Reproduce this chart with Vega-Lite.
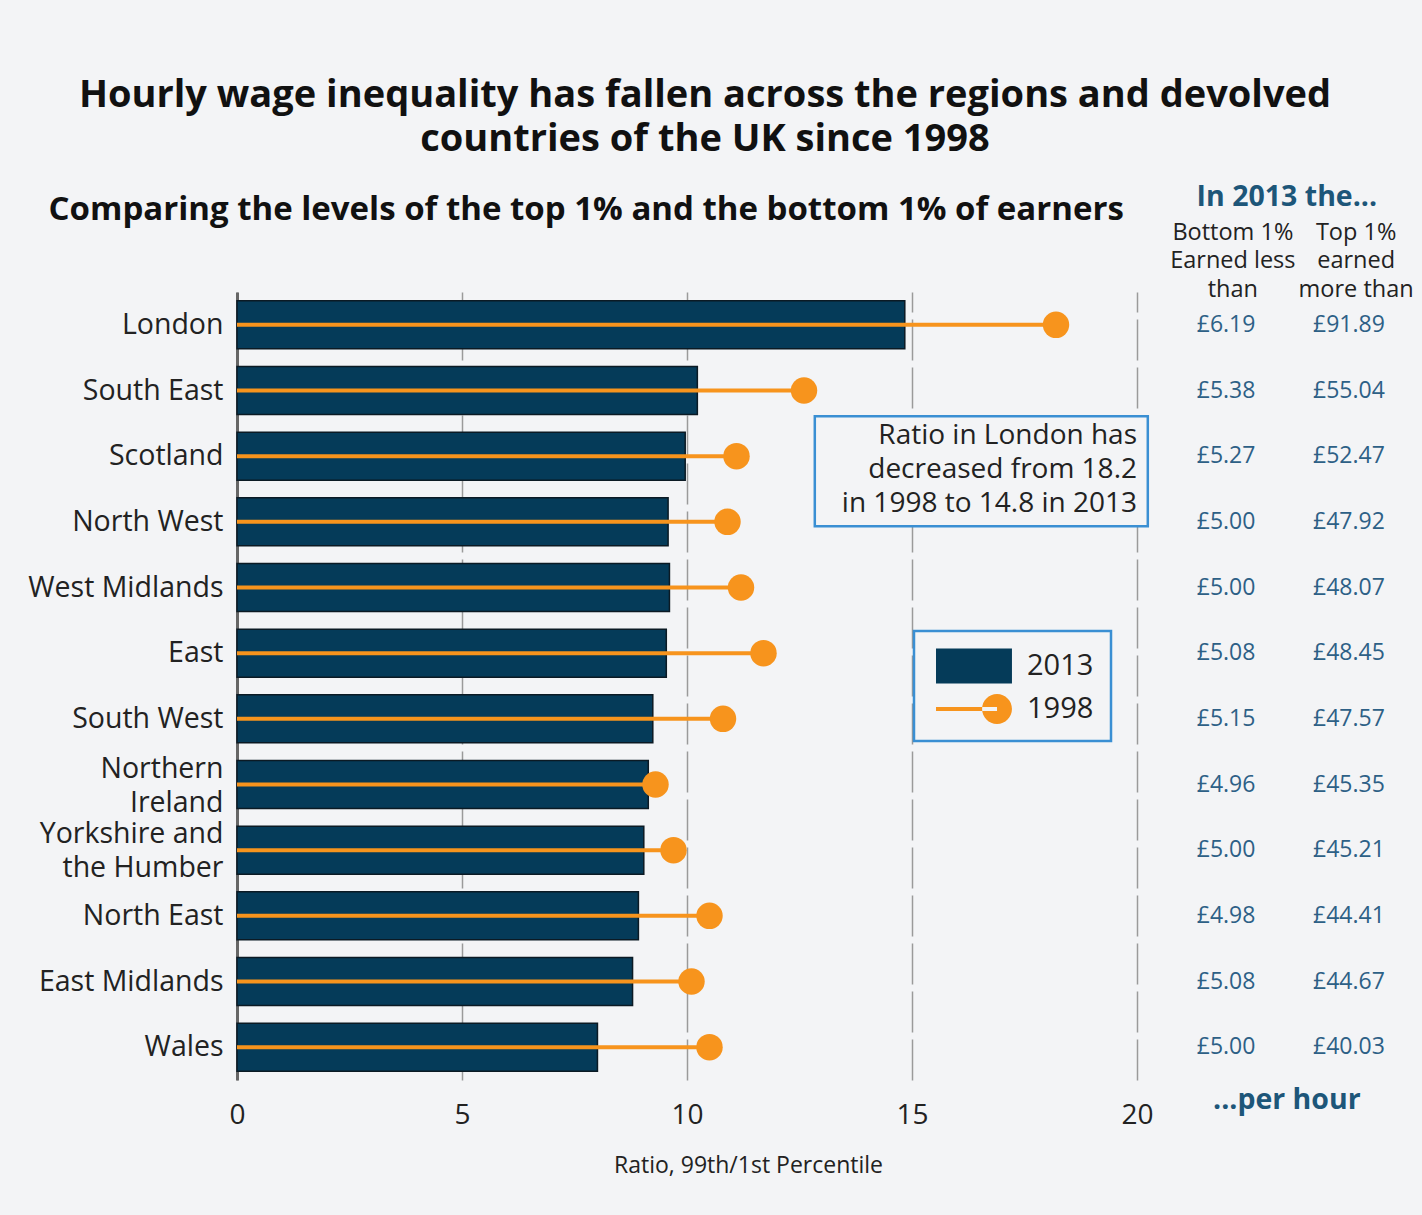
{
  "$schema": "https://vega.github.io/schema/vega-lite/v6.json",
  "width": 900,
  "height": 788,
  "autosize": {"type": "none"},
  "padding": {"left": 237, "top": 292, "right": 285, "bottom": 135},
  "background": "#f3f4f6",
  "title": {
    "text": ["Hourly wage inequality has fallen across the regions and devolved", "countries of the UK since 1998"],
    "fontSize": 38,
    "fontWeight": "bold",
    "font": "Open Sans",
    "color": "#111111",
    "anchor": "middle",
    "frame": "group",
    "dx": 18,
    "lineHeight": 44,
    "offset": 24
  },
  "config": {
    "font": "Open Sans",
    "view": {"stroke": null},
    "text": {"font": "Open Sans"},
    "legend": {
      "orient": "none",
      "legendX": 677,
      "legendY": 339,
      "padding": 17,
      "strokeColor": "#3a8fd3",
      "strokeWidth": 2.5,
      "fillColor": "#f3f4f6",
      "labelFontSize": 29,
      "labelFont": "Open Sans",
      "labelColor": "#222222",
      "symbolSize": 1296,
      "symbolOffset": 5,
      "labelOffset": 55,
      "rowPadding": 7,
      "symbolOpacity": 1,
      "symbolStrokeWidth": 0
    }
  },
  "data": {
    "values": [
      {"region": "London", "r2013": 14.84, "r1998": 18.2, "bottom": "£6.19", "top": "£91.89"},
      {"region": "South East", "r2013": 10.23, "r1998": 12.6, "bottom": "£5.38", "top": "£55.04"},
      {"region": "Scotland", "r2013": 9.96, "r1998": 11.1, "bottom": "£5.27", "top": "£52.47"},
      {"region": "North West", "r2013": 9.58, "r1998": 10.9, "bottom": "£5.00", "top": "£47.92"},
      {"region": "West Midlands", "r2013": 9.61, "r1998": 11.2, "bottom": "£5.00", "top": "£48.07"},
      {"region": "East", "r2013": 9.54, "r1998": 11.7, "bottom": "£5.08", "top": "£48.45"},
      {"region": "South West", "r2013": 9.24, "r1998": 10.8, "bottom": "£5.15", "top": "£47.57"},
      {"region": "Northern Ireland", "r2013": 9.14, "r1998": 9.3, "bottom": "£4.96", "top": "£45.35"},
      {"region": "Yorkshire and the Humber", "r2013": 9.04, "r1998": 9.7, "bottom": "£5.00", "top": "£45.21"},
      {"region": "North East", "r2013": 8.92, "r1998": 10.5, "bottom": "£4.98", "top": "£44.41"},
      {"region": "East Midlands", "r2013": 8.79, "r1998": 10.1, "bottom": "£5.08", "top": "£44.67"},
      {"region": "Wales", "r2013": 8.01, "r1998": 10.5, "bottom": "£5.00", "top": "£40.03"}
    ]
  },
  "layer": [
    {
      "mark": {"type": "bar", "stroke": "#0b1a24", "strokeWidth": 1.5},
      "encoding": {
        "y": {
          "field": "region",
          "type": "nominal",
          "sort": null,
          "scale": {
            "domain": ["London", "South East", "Scotland", "North West", "West Midlands", "East", "South West", "Northern Ireland", "Yorkshire and the Humber", "North East", "East Midlands", "Wales"],
            "paddingInner": 0.27,
            "paddingOuter": 0.135
          },
          "axis": {
            "title": null,
            "ticks": false,
            "grid": false,
            "domain": true,
            "domainColor": "#666666",
            "domainWidth": 3,
            "labelFontSize": 28.5,
            "labelColor": "#222222",
            "labelPadding": 14,
            "labelLimit": 0,
            "labelLineHeight": 34,
            "labelOffset": {"condition": {"test": "datum.value == 'Northern Ireland' || datum.value == 'Yorkshire and the Humber'", "value": -16}, "value": 0},
            "labelExpr": "datum.value == 'Northern Ireland' ? ['Northern', 'Ireland'] : datum.value == 'Yorkshire and the Humber' ? ['Yorkshire and', 'the Humber'] : datum.value"
          }
        },
        "x": {
          "field": "r2013",
          "type": "quantitative",
          "scale": {"domain": [0, 20], "nice": false},
          "axis": {
            "values": [0, 5, 10, 15, 20],
            "ticks": false,
            "domain": false,
            "grid": true,
            "gridColor": "#9a9a9a",
            "gridWidth": 1.5,
            "gridDash": [41, 7],
            "labelFontSize": 28,
            "labelColor": "#222222",
            "labelPadding": 21,
            "labelFlush": false,
            "labelOverlap": false,
            "title": "Ratio, 99th/1st Percentile",
            "titleFontSize": 23,
            "titleFontWeight": "normal",
            "titleColor": "#222222",
            "titleX": 511,
            "titleY": 92,
            "titleAlign": "center",
            "titleBaseline": "alphabetic"
          }
        },
        "color": {
          "datum": "2013",
          "type": "nominal",
          "scale": {"domain": ["2013", "1998"], "range": ["#053b59", "#f7941d"]},
          "legend": {"title": null}
        }
      }
    },
    {
      "mark": {"type": "bar", "size": 4},
      "encoding": {
        "y": {"field": "region", "type": "nominal", "sort": null},
        "x": {"field": "r1998", "type": "quantitative"},
        "color": {"datum": "1998", "type": "nominal", "legend": {"title": null}}
      }
    },
    {
      "mark": {"type": "circle", "size": 700, "opacity": 1},
      "encoding": {
        "y": {"field": "region", "type": "nominal", "sort": null},
        "x": {"field": "r1998", "type": "quantitative"},
        "color": {"datum": "1998", "type": "nominal", "legend": {"title": null}}
      }
    },
    {
      "data": {"values": [{"series": "2013"}, {"series": "1998"}]},
      "mark": {"type": "point", "filled": true, "opacity": 0},
      "encoding": {
        "x": {"datum": 0, "type": "quantitative"},
        "y": {"datum": "London", "type": "nominal"},
        "color": {"field": "series", "type": "nominal", "legend": {"title": null}},
        "shape": {
          "field": "series",
          "type": "nominal",
          "scale": {
            "domain": ["2013", "1998"],
            "range": ["M-1,-0.97H3.22V0.97H-1Z", "M-1,-0.11H2.39V0.11H-1Z M1.56,0A0.83,0.83,0,1,0,3.22,0A0.83,0.83,0,1,0,1.56,0Z"]
          },
          "legend": {"title": null}
        }
      }
    },
    {
      "mark": {"type": "text", "fontSize": 23, "color": "#2d6086", "align": "center", "baseline": "middle"},
      "encoding": {
        "y": {"field": "region", "type": "nominal", "sort": null},
        "x": {"datum": 21.98, "type": "quantitative"},
        "text": {"field": "bottom"}
      }
    },
    {
      "mark": {"type": "text", "fontSize": 23, "color": "#2d6086", "align": "center", "baseline": "middle"},
      "encoding": {
        "y": {"field": "region", "type": "nominal", "sort": null},
        "x": {"datum": 24.71, "type": "quantitative"},
        "text": {"field": "top"}
      }
    },
    {
      "data": {"values": [{}]},
      "mark": {"type": "rect", "fill": "#f3f4f6", "stroke": "#3a8fd3", "strokeWidth": 2.5, "height": 110, "yOffset": 15},
      "encoding": {
        "x": {"datum": 12.84, "type": "quantitative"},
        "x2": {"datum": 20.24, "type": "quantitative"},
        "y": {"datum": "Scotland", "type": "nominal"}
      }
    },
    {
      "data": {"values": [{}]},
      "mark": {"type": "text", "fontSize": 28, "color": "#222222", "align": "right", "baseline": "middle", "dy": -20, "lineHeight": 34,
        "text": ["Ratio in London has", "decreased from 18.2", "in 1998 to 14.8 in 2013"]},
      "encoding": {
        "x": {"datum": 20, "type": "quantitative"},
        "y": {"datum": "Scotland", "type": "nominal"}
      }
    },
    {
      "data": {"values": [{}]},
      "mark": {"type": "text", "fontSize": 33, "fontWeight": "bold", "color": "#111111", "align": "center", "baseline": "middle", "dy": -115,
        "text": "Comparing the levels of the top 1% and the bottom 1% of earners"},
      "encoding": {
        "x": {"datum": 7.76, "type": "quantitative"},
        "y": {"datum": "London", "type": "nominal"}
      }
    },
    {
      "data": {"values": [{}]},
      "mark": {"type": "text", "fontSize": 28.5, "fontWeight": "bold", "color": "#1d5679", "align": "center", "baseline": "middle", "dy": -128,
        "text": "In 2013 the..."},
      "encoding": {
        "x": {"datum": 23.33, "type": "quantitative"},
        "y": {"datum": "London", "type": "nominal"}
      }
    },
    {
      "data": {"values": [{}]},
      "mark": {"type": "text", "fontSize": 23.5, "color": "#222222", "align": "center", "baseline": "middle", "dy": -92, "lineHeight": 28.5,
        "text": ["Bottom 1%", "Earned less", "than"]},
      "encoding": {
        "x": {"datum": 22.13, "type": "quantitative"},
        "y": {"datum": "London", "type": "nominal"}
      }
    },
    {
      "data": {"values": [{}]},
      "mark": {"type": "text", "fontSize": 23.5, "color": "#222222", "align": "center", "baseline": "middle", "dy": -92, "lineHeight": 28.5,
        "text": ["Top 1%", "earned", "more than"]},
      "encoding": {
        "x": {"datum": 24.87, "type": "quantitative"},
        "y": {"datum": "London", "type": "nominal"}
      }
    },
    {
      "data": {"values": [{}]},
      "mark": {"type": "text", "fontSize": 28.5, "fontWeight": "bold", "color": "#1d5679", "align": "center", "baseline": "middle", "dy": 53,
        "text": "...per hour"},
      "encoding": {
        "x": {"datum": 23.33, "type": "quantitative"},
        "y": {"datum": "Wales", "type": "nominal"}
      }
    }
  ]
}
